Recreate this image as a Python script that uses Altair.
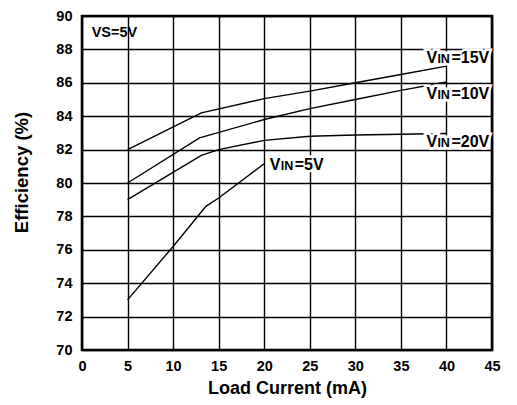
import altair as alt
import pandas as pd

# ---- data ----
load_15 = [5, 13.1, 20, 25, 30, 35, 40]
eff_15 = [82.0, 84.2, 85.05, 85.5, 86.0, 86.5, 87.0]

load_10 = [5, 12.9, 20, 25, 30, 35, 40]
eff_10 = [80.0, 82.7, 83.8, 84.45, 85.0, 85.55, 86.05]

load_20 = [5, 13.1, 15, 20, 25, 30, 35, 40]
eff_20 = [79.0, 81.65, 82.0, 82.55, 82.8, 82.87, 82.92, 82.96]

load_5 = [5, 10, 13.6, 15, 20]
eff_5 = [73.0, 76.2, 78.6, 79.1, 81.15]

x_ticks = [0, 5, 10, 15, 20, 25, 30, 35, 40, 45]
y_ticks = [70, 72, 74, 76, 78, 80, 82, 84, 86, 88, 90]

label_rest = ["=15V", "=10V", "=20V", "=5V"]
label_x = [37.8, 37.8, 37.8, 20.6]
label_y = [87.19, 85.04, 82.16, 80.78]

note_text = ["VS=5V"]
note_x = [1.06]
note_y = [88.72]

FONT = "Liberation Sans"

rows = []
for name, xs, ys in [("15", load_15, eff_15), ("10", load_10, eff_10),
                     ("20", load_20, eff_20), ("5", load_5, eff_5)]:
    for i, (a, b) in enumerate(zip(xs, ys)):
        rows.append({"series": name, "load": a, "eff": b, "order": i})
df = pd.DataFrame(rows)

labels = pd.DataFrame({"x": label_x, "y": label_y, "rest": label_rest})
notes = pd.DataFrame({"x": note_x, "y": note_y, "text": note_text})

xscale = alt.Scale(domain=[0, 45], nice=False, zero=False)
yscale = alt.Scale(domain=[70, 90], nice=False, zero=False)

xaxis = alt.Axis(values=x_ticks, title="Load Current (mA)", grid=True,
                 gridColor="black", gridWidth=1.4, gridOpacity=1,
                 domain=False, ticks=False, labelPadding=9,
                 titlePadding=7, labelFlush=False, labelOverlap=False,
                 titleFontSize=18)
yaxis = alt.Axis(values=y_ticks, title="Efficiency (%)", grid=True,
                 gridColor="black", gridWidth=1.4, gridOpacity=1,
                 domain=False, ticks=False, labelPadding=10,
                 titlePadding=24, labelFlush=False, labelOverlap=False,
                 titleFontSize=18.5, titleY=156)

lines = alt.Chart(df).mark_line(color="black", strokeWidth=1.4).encode(
    x=alt.X("load:Q", scale=xscale, axis=xaxis),
    y=alt.Y("eff:Q", scale=yscale, axis=yaxis),
    detail="series:N",
    order="order:Q",
)

def txt(data, field, dx, size, halo):
    kw = dict(align="left", baseline="alphabetic", font=FONT, fontWeight="bold",
              fontSize=size, dx=dx)
    if halo:
        kw.update(color="white", stroke="white", strokeWidth=5)
    else:
        kw.update(color="black")
    return alt.Chart(data).mark_text(**kw).encode(
        x=alt.X("x:Q", scale=xscale, axis=xaxis),
        y=alt.Y("y:Q", scale=yscale, axis=yaxis),
        text=alt.Text(field),
    )

labels = labels.assign(v="V", sub="IN")
layers = [lines]
for halo in (True, False):
    layers += [txt(labels, "v:N", 0, 16, halo),
               txt(labels, "sub:N", 11, 12.5, halo),
               txt(labels, "rest:N", 25, 16, halo)]
layers.append(txt(notes, "text:N", 0, 14.5, False))

chart = alt.layer(*layers).properties(
    width=410, height=334,
    autosize=alt.AutoSizeParams(type="none"),
    padding={"left": 74, "top": 8, "right": 17, "bottom": 55},
    background="white",
).configure_view(
    stroke="black", strokeWidth=2.6
).configure_axis(
    labelFont=FONT, labelFontWeight="bold", labelFontSize=14.5, labelColor="black",
    titleFont=FONT, titleFontWeight="bold", titleColor="black",
)

chart.save("out.html", embed_options={"renderer": "svg", "actions": False})
